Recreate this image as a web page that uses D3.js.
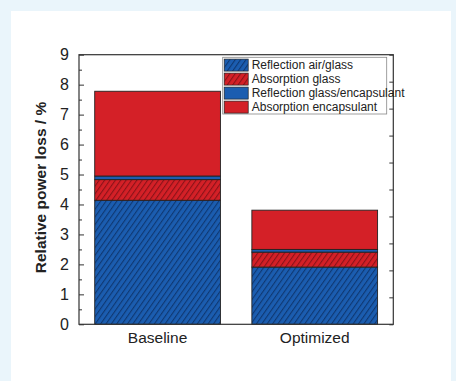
<!DOCTYPE html>
<html>
<head>
<meta charset="utf-8">
<script src="https://cdn.jsdelivr.net/npm/d3@7"></script>
<style>
  body { margin: 0; background: #eaf5fb; }
  svg { display: block; font-family: "Liberation Sans", Arial, sans-serif; }
</style>
</head>
<body>
<svg id="chart" width="456" height="381"></svg>
<script>
// data
var categories = ["Baseline", "Optimized"];
var seriesNames = ["Reflection air/glass", "Absorption glass", "Reflection glass/encapsulant", "Absorption encapsulant"];
var reflAirGlass = [4.14, 1.91];
var absGlass = [0.69, 0.50];
var reflGlassEnc = [0.12, 0.09];
var absEnc = [2.83, 1.31];
var yTicks = [0, 1, 2, 3, 4, 5, 6, 7, 8, 9];

var svg = d3.select("#chart");
var margin = {top: 54.7, left: 79, right: 62.7, bottom: 56.7};
var width = +svg.attr("width") - margin.left - margin.right,
    height = +svg.attr("height") - margin.top - margin.bottom;

// white panel
svg.append("rect").attr("x", 11).attr("y", 11).attr("width", 440).attr("height", 370).attr("fill", "#fff");

var defs = svg.append("defs");
var blue = "#1b5db0", red = "#d42027";
function hatch(id, col, lineCol) {
    var p = defs.append("pattern").attr("id", id)
        .attr("patternUnits", "userSpaceOnUse").attr("width", 4.4).attr("height", 4.4)
        .attr("patternTransform", "rotate(35)");
    p.append("rect").attr("width", 4.4).attr("height", 4.4).attr("fill", col);
    p.append("line").attr("x1", 0.6).attr("y1", 0).attr("x2", 0.6).attr("y2", 4.4)
        .attr("stroke", lineCol).attr("stroke-width", 0.95);
}
hatch("hBlue", blue, "#0c3268");
hatch("hRed", red, "#7e1016");
var fills = ["url(#hBlue)", "url(#hRed)", blue, red];

var rows = categories.map(function(c, i) {
    return {cat: c, s0: reflAirGlass[i], s1: absGlass[i], s2: reflGlassEnc[i], s3: absEnc[i]};
});
var stack = d3.stack().keys(["s0", "s1", "s2", "s3"]);
var layers = stack(rows);

var g = svg.append("g").attr("transform", "translate(" + margin.left + "," + margin.top + ")");

var x = d3.scaleBand().domain(categories).range([0, width]).paddingInner(0.2).paddingOuter(0.1);
var y = d3.scaleLinear().domain([0, 9]).range([height, 0]);
var yRight = d3.scaleLinear().domain([0, 10]).range([height, 0]);

g.selectAll(".layer")
    .data(layers)
    .enter().append("g")
    .attr("class", "layer")
    .attr("fill", function(d, i) { return fills[i]; })
    .selectAll("rect")
    .data(function(d) { return d; })
    .enter().append("rect")
    .attr("x", function(d) { return x(d.data.cat); })
    .attr("y", function(d) { return y(d[1]); })
    .attr("width", x.bandwidth())
    .attr("height", function(d) { return y(d[0]) - y(d[1]); })
    .attr("stroke", "#222")
    .attr("stroke-width", 0.9);

// frame
g.append("rect").attr("width", width).attr("height", height)
    .attr("fill", "none").attr("stroke", "#333").attr("stroke-width", 1.2);

// left axis, inward ticks
var yAxis = g.append("g")
    .call(d3.axisLeft(y).tickValues(yTicks).tickSize(-5).tickPadding(10).tickFormat(d3.format("d")));
yAxis.select(".domain").remove();
yAxis.selectAll("text").attr("font-size", "16px").attr("fill", "#222");
yAxis.selectAll("line").attr("stroke", "#333");

g.append("g")
    .call(d3.axisLeft(y).tickValues(d3.range(0.5, 9, 1)).tickSize(-3).tickFormat(""))
    .call(function(a) { a.select(".domain").remove(); a.selectAll("line").attr("stroke", "#333"); });

// right axis, inward ticks, no labels
g.append("g").attr("transform", "translate(" + width + ",0)")
    .call(d3.axisRight(yRight).ticks(10).tickSize(-4).tickFormat(""))
    .call(function(a) { a.select(".domain").remove(); a.selectAll("line").attr("stroke", "#333"); });

// bottom axis labels
var xAxis = g.append("g").attr("transform", "translate(0," + height + ")")
    .call(d3.axisBottom(x).tickSize(0).tickPadding(8));
xAxis.select(".domain").remove();
xAxis.selectAll("text").attr("font-size", "15.5px").attr("fill", "#222");

// y label
g.append("text")
    .attr("transform", "rotate(-90)")
    .attr("x", -height / 2 + 2)
    .attr("y", -33)
    .attr("text-anchor", "middle")
    .attr("font-size", "15.5px")
    .attr("font-weight", "bold")
    .attr("fill", "#222")
    .text("Relative power loss / %");

// legend
var lg = svg.append("g").attr("transform", "translate(222.7,57.3)");
lg.append("rect").attr("width", 164).attr("height", 56.7)
    .attr("fill", "#fff").attr("stroke", "#888").attr("stroke-width", 0.8);
var item = lg.selectAll(".item").data(seriesNames).enter().append("g")
    .attr("transform", function(d, i) { return "translate(1.5," + (1.8 + i * 14) + ")"; });
item.append("rect").attr("width", 24).attr("height", 12)
    .attr("fill", function(d, i) { return fills[i]; })
    .attr("stroke", "#222").attr("stroke-width", 0.7);
item.append("text").attr("x", 27.5).attr("y", 6).attr("dy", "0.35em")
    .attr("font-size", "12px").attr("fill", "#222")
    .text(function(d) { return d; });
</script>
</body>
</html>
